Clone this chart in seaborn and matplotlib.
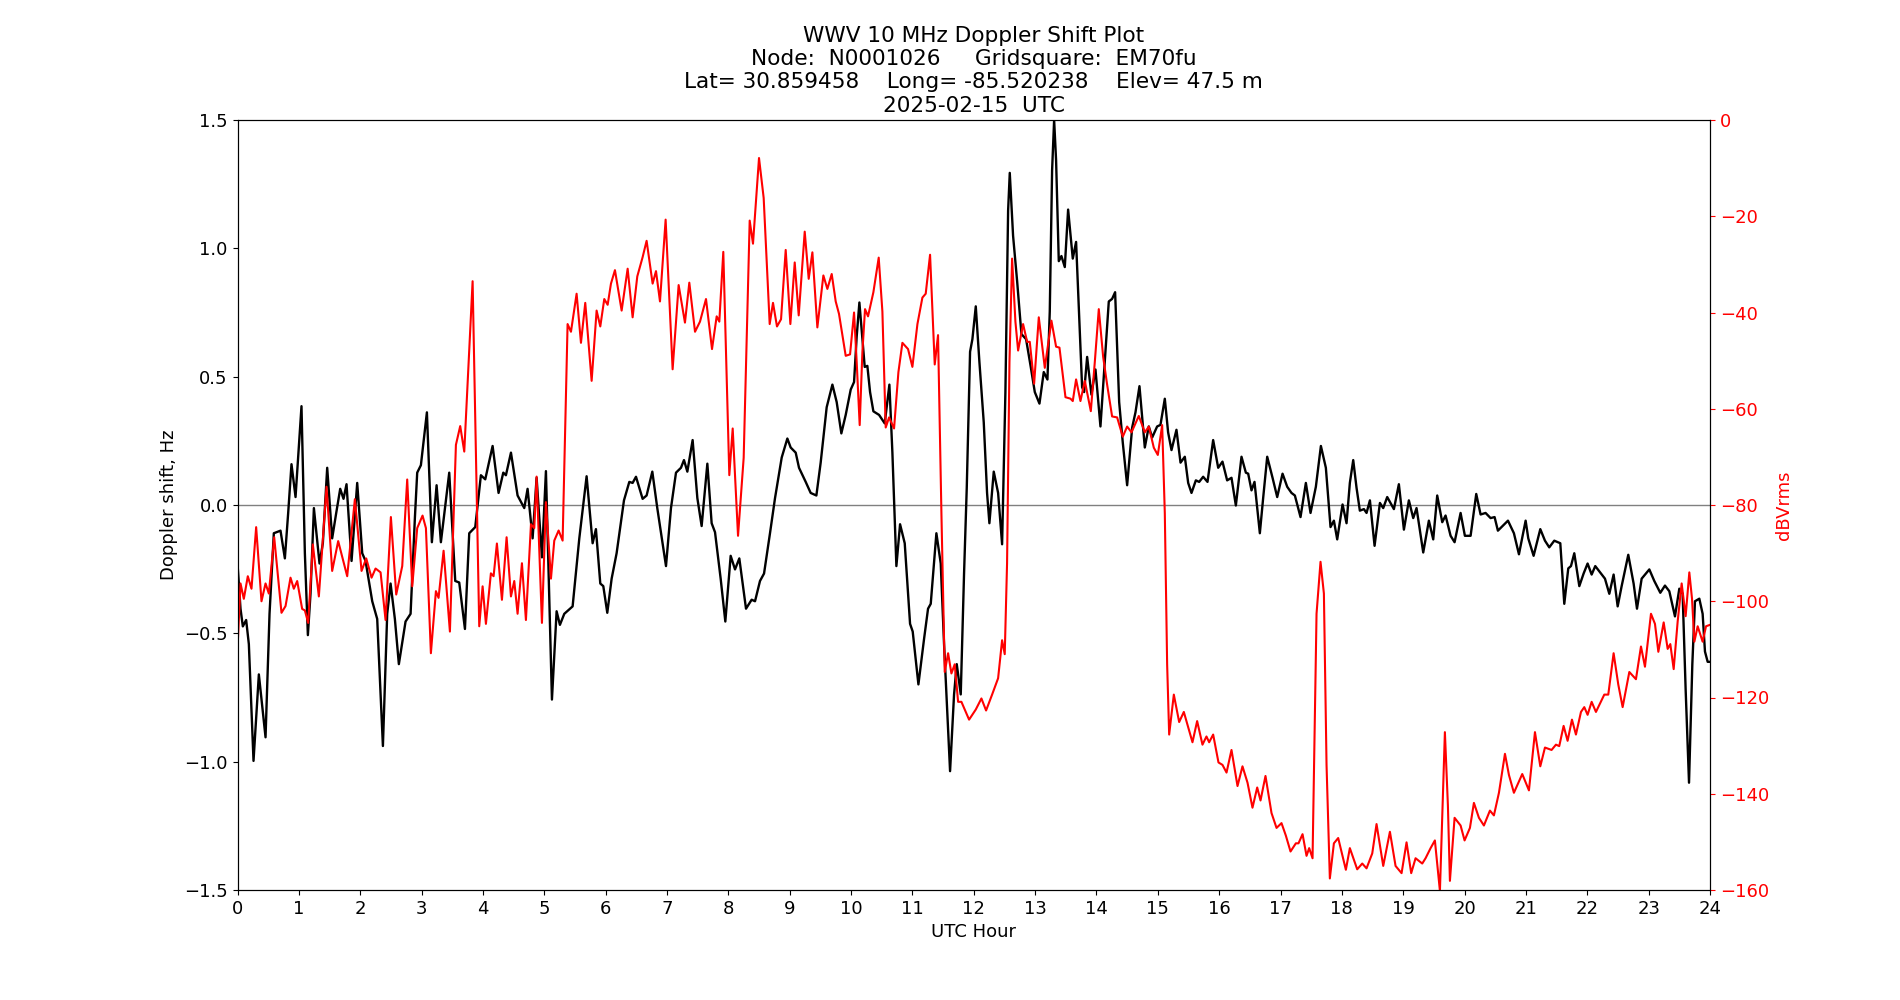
"""
WWV 10 MHz Doppler shift and received power, 2025-02-15
"""

import seaborn as sns
import matplotlib
matplotlib.use("Agg")
import matplotlib.pyplot as plt

# Doppler shift (Hz) vs UTC hour
doppler_hours = [
    0.000, 0.049, 0.087, 0.141, 0.185, 0.261, 0.348, 0.457, 0.522, 0.592,
    0.701, 0.772, 0.826, 0.880, 0.946, 1.043, 1.098, 1.147, 1.190, 1.245,
    1.337, 1.391, 1.462, 1.543, 1.609, 1.674, 1.728, 1.777, 1.859, 1.951,
    2.033, 2.087, 2.196, 2.277, 2.370, 2.440, 2.495, 2.565, 2.630, 2.739,
    2.821, 2.891, 2.929, 2.989, 3.087, 3.168, 3.245, 3.315, 3.451, 3.549,
    3.614, 3.707, 3.777, 3.875, 3.967, 4.038, 4.158, 4.255, 4.332, 4.375,
    4.457, 4.565, 4.674, 4.728, 4.810, 4.875, 4.962, 5.027, 5.125, 5.201,
    5.255, 5.326, 5.462, 5.571, 5.690, 5.788, 5.842, 5.913, 5.962, 6.027,
    6.098, 6.179, 6.299, 6.386, 6.440, 6.495, 6.603, 6.668, 6.761, 6.842,
    6.984, 7.065, 7.147, 7.228, 7.277, 7.332, 7.418, 7.495, 7.565, 7.658,
    7.728, 7.783, 7.875, 7.951, 8.038, 8.109, 8.179, 8.288, 8.380, 8.435,
    8.516, 8.582, 8.679, 8.761, 8.870, 8.962, 9.016, 9.098, 9.152, 9.261,
    9.342, 9.435, 9.505, 9.603, 9.696, 9.766, 9.842, 9.913, 9.995, 10.049,
    10.092, 10.136, 10.190, 10.223, 10.266, 10.310, 10.364, 10.457, 10.549, 10.625,
    10.674, 10.739, 10.799, 10.875, 10.962, 11.005, 11.098, 11.190, 11.255, 11.299,
    11.391, 11.462, 11.516, 11.614, 11.679, 11.723, 11.788, 11.842, 11.886, 11.940,
    11.978, 12.033, 12.092, 12.163, 12.217, 12.255, 12.326, 12.397, 12.462, 12.516,
    12.560, 12.587, 12.641, 12.707, 12.777, 12.853, 12.929, 12.995, 13.071, 13.141,
    13.201, 13.239, 13.277, 13.310, 13.342, 13.386, 13.429, 13.484, 13.538, 13.614,
    13.668, 13.766, 13.799, 13.848, 13.918, 13.984, 14.065, 14.147, 14.201, 14.255,
    14.304, 14.370, 14.429, 14.500, 14.582, 14.636, 14.701, 14.788, 14.853, 14.908,
    14.989, 15.043, 15.114, 15.168, 15.223, 15.304, 15.370, 15.440, 15.495, 15.549,
    15.620, 15.674, 15.739, 15.810, 15.902, 15.984, 16.054, 16.130, 16.201, 16.272,
    16.364, 16.435, 16.473, 16.527, 16.576, 16.663, 16.717, 16.783, 16.870, 16.946,
    17.033, 17.109, 17.179, 17.234, 17.326, 17.413, 17.489, 17.576, 17.658, 17.739,
    17.815, 17.870, 17.924, 18.011, 18.076, 18.130, 18.185, 18.239, 18.293, 18.359,
    18.402, 18.457, 18.533, 18.620, 18.674, 18.739, 18.848, 18.929, 19.011, 19.092,
    19.163, 19.217, 19.326, 19.418, 19.489, 19.554, 19.636, 19.690, 19.772, 19.837,
    19.935, 20.005, 20.098, 20.190, 20.261, 20.342, 20.424, 20.489, 20.543, 20.707,
    20.804, 20.886, 20.995, 21.038, 21.125, 21.234, 21.310, 21.380, 21.462, 21.560,
    21.625, 21.690, 21.734, 21.788, 21.870, 21.940, 22.005, 22.071, 22.130, 22.223,
    22.288, 22.359, 22.429, 22.495, 22.560, 22.668, 22.755, 22.810, 22.886, 23.011,
    23.092, 23.190, 23.266, 23.337, 23.429, 23.500, 23.554, 23.603, 23.658, 23.712,
    23.755, 23.826, 23.880, 23.918, 23.962, 24.000,
]
doppler_hz = [
    -0.228, -0.404, -0.473, -0.448, -0.542, -0.997, -0.660, -0.905, -0.424, -0.110,
    -0.100, -0.208, -0.031, 0.159, 0.031, 0.385, -0.188, -0.507, -0.346, -0.012,
    -0.228, -0.149, 0.145, -0.130, -0.031, 0.063, 0.024, 0.081, -0.218, 0.086,
    -0.188, -0.218, -0.375, -0.444, -0.939, -0.424, -0.306, -0.444, -0.620, -0.454,
    -0.424, -0.051, 0.126, 0.155, 0.361, -0.145, 0.077, -0.145, 0.126, -0.296,
    -0.302, -0.483, -0.110, -0.086, 0.116, 0.100, 0.230, 0.047, 0.126, 0.116,
    0.204, 0.037, -0.012, 0.063, -0.130, 0.106, -0.204, 0.132, -0.758, -0.414,
    -0.467, -0.424, -0.395, -0.130, 0.112, -0.149, -0.094, -0.306, -0.316, -0.420,
    -0.287, -0.188, 0.018, 0.090, 0.086, 0.110, 0.024, 0.037, 0.130, -0.012,
    -0.238, -0.012, 0.126, 0.145, 0.175, 0.130, 0.253, 0.027, -0.082, 0.161,
    -0.071, -0.106, -0.287, -0.454, -0.198, -0.251, -0.208, -0.404, -0.369, -0.375,
    -0.296, -0.267, -0.110, 0.027, 0.185, 0.259, 0.224, 0.204, 0.145, 0.090,
    0.047, 0.037, 0.165, 0.381, 0.469, 0.401, 0.279, 0.351, 0.450, 0.479,
    0.656, 0.789, 0.636, 0.538, 0.542, 0.440, 0.365, 0.351, 0.318, 0.469,
    0.204, -0.238, -0.075, -0.149, -0.463, -0.493, -0.699, -0.522, -0.404, -0.385,
    -0.110, -0.228, -0.542, -1.037, -0.738, -0.620, -0.738, -0.267, 0.067, 0.597,
    0.646, 0.774, 0.558, 0.322, 0.047, -0.071, 0.130, 0.047, -0.153, 0.440,
    1.147, 1.294, 1.049, 0.872, 0.666, 0.646, 0.538, 0.440, 0.395, 0.518,
    0.489, 0.754, 1.304, 1.500, 1.343, 0.950, 0.970, 0.927, 1.151, 0.960,
    1.025, 0.459, 0.440, 0.577, 0.430, 0.528, 0.306, 0.597, 0.793, 0.803,
    0.829, 0.401, 0.243, 0.077, 0.302, 0.361, 0.463, 0.224, 0.306, 0.263,
    0.306, 0.312, 0.414, 0.283, 0.214, 0.293, 0.165, 0.188, 0.086, 0.047,
    0.096, 0.090, 0.110, 0.090, 0.253, 0.145, 0.169, 0.096, 0.106, -0.002,
    0.188, 0.126, 0.122, 0.057, 0.090, -0.110, 0.027, 0.188, 0.106, 0.031,
    0.122, 0.071, 0.047, 0.037, -0.047, 0.086, -0.031, 0.071, 0.230, 0.145,
    -0.086, -0.061, -0.134, 0.002, -0.071, 0.086, 0.175, 0.067, -0.022, -0.016,
    -0.031, 0.018, -0.159, 0.008, -0.012, 0.031, -0.016, 0.081, -0.096, 0.018,
    -0.051, -0.012, -0.185, -0.061, -0.134, 0.037, -0.067, -0.041, -0.120, -0.145,
    -0.031, -0.120, -0.120, 0.043, -0.037, -0.031, -0.051, -0.047, -0.100, -0.061,
    -0.110, -0.192, -0.061, -0.130, -0.198, -0.094, -0.139, -0.165, -0.139, -0.149,
    -0.385, -0.247, -0.238, -0.188, -0.316, -0.267, -0.228, -0.271, -0.238, -0.267,
    -0.287, -0.346, -0.271, -0.395, -0.316, -0.194, -0.306, -0.404, -0.287, -0.251,
    -0.296, -0.342, -0.314, -0.336, -0.434, -0.326, -0.346, -0.719, -1.082, -0.620,
    -0.375, -0.365, -0.424, -0.571, -0.611, -0.611,
]

# received level (dBVrms) vs UTC hour
power_hours = [
    0.000, 0.049, 0.103, 0.168, 0.228, 0.304, 0.391, 0.457, 0.511, 0.598,
    0.717, 0.783, 0.864, 0.918, 0.973, 1.054, 1.098, 1.152, 1.228, 1.326,
    1.451, 1.543, 1.641, 1.788, 1.913, 2.022, 2.098, 2.185, 2.250, 2.332,
    2.413, 2.500, 2.587, 2.685, 2.766, 2.848, 2.929, 3.016, 3.071, 3.152,
    3.234, 3.277, 3.359, 3.462, 3.560, 3.630, 3.696, 3.832, 3.940, 3.995,
    4.049, 4.130, 4.174, 4.228, 4.310, 4.386, 4.457, 4.511, 4.565, 4.636,
    4.701, 4.783, 4.837, 4.875, 4.962, 5.027, 5.109, 5.163, 5.234, 5.299,
    5.380, 5.435, 5.527, 5.598, 5.668, 5.772, 5.853, 5.913, 5.978, 6.033,
    6.087, 6.152, 6.261, 6.359, 6.440, 6.516, 6.603, 6.668, 6.766, 6.821,
    6.886, 6.978, 7.092, 7.190, 7.293, 7.364, 7.457, 7.538, 7.636, 7.734,
    7.810, 7.853, 7.918, 8.016, 8.071, 8.158, 8.250, 8.348, 8.402, 8.500,
    8.576, 8.674, 8.728, 8.793, 8.859, 8.935, 9.011, 9.082, 9.147, 9.245,
    9.310, 9.370, 9.451, 9.549, 9.614, 9.685, 9.750, 9.804, 9.913, 9.984,
    10.049, 10.092, 10.141, 10.185, 10.228, 10.277, 10.364, 10.451, 10.511, 10.565,
    10.620, 10.701, 10.772, 10.837, 10.929, 11.000, 11.082, 11.163, 11.217, 11.288,
    11.364, 11.418, 11.473, 11.527, 11.582, 11.636, 11.690, 11.745, 11.799, 11.924,
    12.033, 12.125, 12.201, 12.299, 12.397, 12.462, 12.505, 12.543, 12.582, 12.625,
    12.679, 12.723, 12.804, 12.870, 12.913, 12.984, 13.060, 13.158, 13.266, 13.342,
    13.397, 13.495, 13.576, 13.614, 13.668, 13.739, 13.810, 13.908, 13.973, 14.038,
    14.109, 14.174, 14.255, 14.337, 14.429, 14.500, 14.571, 14.690, 14.788, 14.853,
    14.935, 15.000, 15.071, 15.114, 15.152, 15.185, 15.261, 15.348, 15.424, 15.565,
    15.641, 15.728, 15.793, 15.837, 15.902, 15.989, 16.054, 16.120, 16.201, 16.299,
    16.380, 16.462, 16.543, 16.620, 16.674, 16.755, 16.853, 16.935, 17.016, 17.087,
    17.163, 17.250, 17.293, 17.359, 17.424, 17.467, 17.522, 17.587, 17.652, 17.707,
    17.750, 17.804, 17.870, 17.940, 18.011, 18.065, 18.130, 18.250, 18.332, 18.402,
    18.495, 18.565, 18.674, 18.783, 18.875, 18.973, 19.054, 19.130, 19.201, 19.310,
    19.364, 19.446, 19.516, 19.598, 19.636, 19.679, 19.728, 19.761, 19.837, 19.935,
    20.000, 20.087, 20.152, 20.234, 20.315, 20.413, 20.478, 20.560, 20.658, 20.723,
    20.804, 20.940, 21.049, 21.147, 21.234, 21.310, 21.418, 21.489, 21.543, 21.614,
    21.679, 21.750, 21.815, 21.897, 21.951, 22.005, 22.071, 22.141, 22.277, 22.342,
    22.429, 22.505, 22.576, 22.685, 22.793, 22.875, 22.940, 23.038, 23.103, 23.158,
    23.245, 23.310, 23.353, 23.408, 23.473, 23.538, 23.603, 23.663, 23.707, 23.745,
    23.799, 23.880, 23.935, 24.000,
]
power_db = [
    -109.9, -96.3, -99.5, -94.8, -97.4, -84.6, -100.0, -96.3, -98.4, -86.7,
    -102.4, -101.0, -95.1, -97.4, -95.8, -101.6, -101.9, -104.5, -88.2, -99.0,
    -76.2, -93.7, -87.5, -94.8, -78.8, -93.7, -91.1, -95.1, -93.2, -94.0,
    -103.9, -82.5, -98.6, -92.7, -74.7, -96.9, -84.8, -82.2, -84.8, -110.8,
    -97.9, -99.3, -89.5, -106.3, -67.5, -63.6, -68.9, -33.5, -105.2, -96.9,
    -104.7, -94.2, -94.8, -88.0, -99.7, -86.7, -99.0, -95.8, -102.6, -92.1,
    -103.9, -84.0, -84.8, -74.1, -104.5, -79.4, -95.3, -87.4, -85.3, -87.4,
    -42.4, -44.0, -36.1, -46.3, -38.0, -54.2, -39.6, -42.9, -37.2, -38.4,
    -34.0, -31.2, -39.6, -30.9, -41.0, -32.5, -28.5, -25.1, -34.0, -31.4,
    -37.7, -20.7, -51.8, -34.3, -42.1, -33.8, -44.0, -41.9, -37.2, -47.6,
    -40.8, -41.9, -27.4, -73.8, -64.1, -86.4, -70.2, -20.9, -25.7, -7.9,
    -16.2, -42.4, -38.0, -42.9, -41.4, -27.0, -42.4, -29.6, -40.6, -23.2,
    -33.0, -27.5, -43.1, -32.3, -35.1, -32.0, -37.7, -40.3, -49.0, -48.7,
    -40.0, -50.3, -63.4, -48.2, -39.3, -40.8, -35.8, -28.6, -39.8, -63.9,
    -61.8, -64.1, -52.4, -46.3, -47.6, -51.3, -42.4, -36.9, -36.1, -28.0,
    -50.8, -44.7, -81.7, -114.7, -110.8, -115.0, -113.1, -120.9, -120.9, -124.6,
    -122.5, -120.2, -122.7, -119.4, -116.0, -108.1, -111.0, -92.1, -50.3, -28.8,
    -41.9, -47.9, -42.4, -46.1, -46.1, -54.8, -41.0, -51.5, -41.7, -47.1,
    -47.3, -57.6, -57.9, -58.4, -53.9, -58.4, -54.2, -60.5, -50.3, -39.3,
    -49.2, -55.0, -61.6, -61.8, -65.8, -63.7, -64.9, -61.5, -64.9, -63.7,
    -68.1, -69.6, -63.4, -81.7, -113.1, -127.7, -119.4, -125.1, -123.0, -129.3,
    -124.9, -129.8, -128.1, -129.3, -127.7, -133.5, -134.0, -135.6, -130.9, -138.4,
    -134.3, -137.7, -142.9, -138.7, -141.4, -136.3, -144.0, -147.1, -146.1, -148.7,
    -152.0, -150.3, -150.3, -148.4, -152.9, -151.3, -153.4, -102.6, -91.8, -98.4,
    -134.0, -157.6, -150.3, -149.2, -152.9, -155.8, -151.3, -155.7, -154.5, -155.5,
    -152.4, -146.3, -155.0, -147.9, -155.0, -156.5, -150.1, -156.5, -153.4, -154.5,
    -153.4, -151.3, -149.7, -160.2, -144.5, -127.2, -142.4, -158.1, -145.0, -146.6,
    -149.7, -147.1, -141.9, -145.0, -146.6, -143.5, -144.5, -139.8, -131.7, -136.1,
    -139.8, -135.9, -139.3, -127.2, -134.3, -130.4, -130.9, -129.8, -130.1, -125.9,
    -129.0, -124.6, -127.7, -123.0, -122.0, -123.6, -120.9, -123.0, -119.4, -119.4,
    -110.8, -117.3, -122.0, -114.7, -116.2, -109.4, -113.6, -102.6, -104.7, -110.5,
    -104.4, -109.9, -108.9, -114.1, -104.2, -96.3, -103.1, -94.0, -99.5, -108.4,
    -105.2, -108.4, -105.2, -104.9,
]

title = ("WWV 10 MHz Doppler Shift Plot\n"
         "Node:  N0001026     Gridsquare:  EM70fu\n"
         "Lat= 30.859458    Long= -85.520238    Elev= 47.5 m\n"
         "2025-02-15  UTC")

plt.rcParams['font.size'] = 13

fig, ax1 = plt.subplots(figsize=(19, 10), dpi=100)
ax2 = ax1.twinx()

ax1.axhline(0, color="grey", linewidth=1)
sns.lineplot(x=doppler_hours, y=doppler_hz, color="black", linewidth=1.7,
             estimator=None, sort=False, ax=ax1)
sns.lineplot(x=power_hours, y=power_db, color="red", linewidth=1.5,
             estimator=None, sort=False, ax=ax2)

ax1.set_xlim(0, 24)
ax1.set_xticks(range(0, 25))
ax1.set_ylim(-1.5, 1.5)
ax1.set_xlabel("UTC Hour")
ax1.set_ylabel("Doppler shift, Hz")

ax2.set_ylim(-160, 0)
ax2.set_ylabel("dBVrms", color="red")
ax2.tick_params(axis="y", colors="red")

ax1.set_title(title)

plt.savefig("out.png", dpi=100)
